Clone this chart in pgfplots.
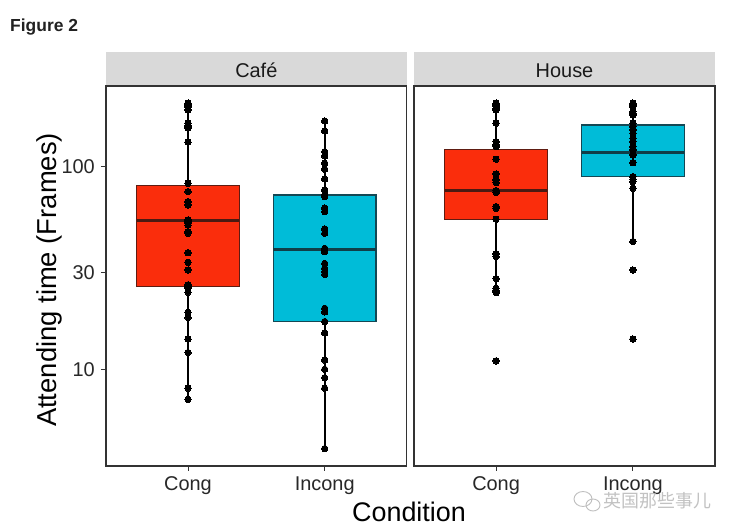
\documentclass[border=0pt]{standalone}
\usepackage{fontspec}
\setmainfont{Liberation Sans}
\newfontfamily\cjk{Noto Sans CJK SC}
\usepackage{pgfplots}
\pgfplotsset{compat=1.18}
\definecolor{boxred}{RGB}{250,45,12}
\definecolor{boxredline}{RGB}{94,28,18}
\definecolor{boxredmed}{RGB}{74,26,18}
\definecolor{boxcyan}{RGB}{0,188,216}
\definecolor{boxcyanline}{RGB}{20,72,84}
\definecolor{boxcyanmed}{RGB}{16,62,72}
\definecolor{stripgray}{RGB}{217,217,217}
\definecolor{axgray}{RGB}{51,51,51}
\definecolor{ticktext}{RGB}{40,40,40}
\begin{document}
\begin{tikzpicture}
\fill[white] (0bp,0bp) rectangle (735bp,532bp);
% ---------------- Panel Cafe
\begin{axis}[scale only axis, height=380bp, width=300.7bp, at={(106bp,66bp)}, anchor=south west,
    ymode=log, ymin=3.332, ymax=250,
    xmin=0.4, xmax=2.6,
    xtick={1,2}, xticklabels={Cong,Incong},
    ytick={10,30,100}, yticklabels={10,30,100},
    yminorticks=false, xminorticks=false,
    axis line style={axgray, line width=1.2bp},
    tick style={axgray, line width=1bp},
    tick align=outside, major tick length=5bp,
    xtick pos=bottom, ytick pos=left,
    /pgf/number format/assume math mode=true,
    x tick label style={font=\fontsize{20}{24}\selectfont, text=ticktext, inner sep=0pt, anchor=north, yshift=-5.5bp},
    y tick label style={font=\fontsize{20}{24}\selectfont, text=ticktext, inner sep=0pt, anchor=east, xshift=-6bp}]
% Cong box: whiskers 7.11 / 205.6, quartiles 25.6 / 80.9, median 54.2
\addplot[black, line width=1.8bp] coordinates {(1,80.9) (1,205.6)};
\addplot[black, line width=1.8bp] coordinates {(1,7.11) (1,25.6)};
\addplot[draw=boxredline, fill=boxred, line width=1.4bp] coordinates {(0.625,25.6) (1.375,25.6) (1.375,80.9) (0.625,80.9)} -- cycle;
\addplot[draw=boxredmed, line width=3bp] coordinates {(0.625,54.2) (1.375,54.2)};
% Incong box: whiskers 4.06 / 168, quartiles 17.2 / 72.4, median 39.1
\addplot[black, line width=1.8bp] coordinates {(2,72.4) (2,168)};
\addplot[black, line width=1.8bp] coordinates {(2,4.06) (2,17.2)};
\addplot[draw=boxcyanline, fill=boxcyan, line width=1.4bp] coordinates {(1.625,17.2) (2.375,17.2) (2.375,72.4) (1.625,72.4)} -- cycle;
\addplot[draw=boxcyanmed, line width=3bp] coordinates {(1.625,39.1) (2.375,39.1)};
\addplot[only marks, mark=*, mark size=3.2bp, mark options={fill=black, draw=black, line width=0pt}] coordinates {
 (1,205.6) (1,203) (1,200) (1,196) (1,190.5) (1,163.8) (1,160) (1,157) (1,154.9) (1,132)
 (1,82.8) (1,75.3) (1,67.2) (1,64.7) (1,54.6) (1,53.5) (1,52.5) (1,51.5) (1,47.8) (1,46.9)
 (1,37.6) (1,33.7) (1,30.9) (1,26.1) (1,25.6) (1,25.1) (1,24) (1,19.1) (1,18) (1,14.1)
 (1,12.1) (1,8.06) (1,7.11)};
\addplot[only marks, mark=*, mark size=3.2bp, mark options={fill=black, draw=black, line width=0pt}] coordinates {
 (2,168) (2,150) (2,118.5) (2,113) (2,104) (2,97.1) (2,86.9) (2,76.7) (2,72.4) (2,71.1)
 (2,62.4) (2,60) (2,49.3) (2,46.9) (2,39.5) (2,38.8) (2,38) (2,33.3) (2,31.5) (2,30.3)
 (2,29.4) (2,20) (2,19.2) (2,17.2) (2,15.1) (2,11.1) (2,10) (2,9.09) (2,8.06) (2,4.06)};
\end{axis}
% ---------------- Panel House
\begin{axis}[scale only axis, height=380bp, width=301bp, at={(414bp,66bp)}, anchor=south west,
    ymode=log, ymin=3.332, ymax=250,
    xmin=0.4, xmax=2.6,
    xtick={1,2}, xticklabels={Cong,Incong},
    ytick=\empty,
    yminorticks=false, xminorticks=false,
    axis line style={axgray, line width=1.2bp},
    tick style={axgray, line width=1bp},
    tick align=outside, major tick length=5bp,
    xtick pos=bottom, ytick pos=left,
    /pgf/number format/assume math mode=true,
    x tick label style={font=\fontsize{20}{24}\selectfont, text=ticktext, inner sep=0pt, anchor=north, yshift=-5.5bp}]
% Cong box: whiskers 23.9 / 205.6, quartiles 55.0 / 121.8, median 76.1
\addplot[black, line width=1.8bp] coordinates {(1,121.8) (1,205.6)};
\addplot[black, line width=1.8bp] coordinates {(1,23.9) (1,55.0)};
\addplot[draw=boxredline, fill=boxred, line width=1.4bp] coordinates {(0.625,55.0) (1.375,55.0) (1.375,121.8) (0.625,121.8)} -- cycle;
\addplot[draw=boxredmed, line width=3bp] coordinates {(0.625,76.1) (1.375,76.1)};
% Incong box: whiskers 42.7 / 205.6, quartiles 89.2 / 160.6, median 117.8
\addplot[black, line width=1.8bp] coordinates {(2,160.6) (2,205.6)};
\addplot[black, line width=1.8bp] coordinates {(2,42.7) (2,89.2)};
\addplot[draw=boxcyanline, fill=boxcyan, line width=1.4bp] coordinates {(1.625,89.2) (2.375,89.2) (2.375,160.6) (1.625,160.6)} -- cycle;
\addplot[draw=boxcyanmed, line width=3bp] coordinates {(1.625,117.8) (2.375,117.8)};
\addplot[only marks, mark=*, mark size=3.2bp, mark options={fill=black, draw=black, line width=0pt}] coordinates {
 (1,205.6) (1,203) (1,200) (1,197.7) (1,194) (1,190.5) (1,163.8) (1,132.8) (1,128) (1,125.5)
 (1,108.8) (1,92) (1,86) (1,83.4) (1,76.1) (1,74.7) (1,63.5) (1,62.3) (1,55) (1,37.1)
 (1,36) (1,28) (1,25.1) (1,24.4) (1,23.9) (1,11.0)};
\addplot[only marks, mark=*, mark size=3.2bp, mark options={fill=black, draw=black, line width=0pt}] coordinates {
 (2,205.6) (2,201.6) (2,197.7) (2,186.9) (2,183.5) (2,180) (2,163.8) (2,157.5) (2,151.7) (2,146.2)
 (2,138.1) (2,132.8) (2,125.5) (2,120.9) (2,114.2) (2,104.6) (2,89.2) (2,86.7) (2,84.3) (2,78.2)
 (2,42.7) (2,30.9) (2,14.1)};
\end{axis}
% strips
\fill[stripgray] (106bp,446.6bp) rectangle (406.7bp,480.3bp);
\fill[stripgray] (414bp,446.6bp) rectangle (715bp,480.3bp);
\node[anchor=base, inner sep=0pt, font=\fontsize{20}{24}\selectfont, text={rgb,255:red,26;green,26;blue,26}] at (256.3bp,454.7bp) {Café};
\node[anchor=base, inner sep=0pt, font=\fontsize{20}{24}\selectfont, text={rgb,255:red,26;green,26;blue,26}] at (564.5bp,454.7bp) {House};
% axis titles
\node[anchor=base, inner sep=0pt, font=\fontsize{27}{32}\selectfont] at (409bp,10.3bp) {Condition};
\node[rotate=90, anchor=base, inner sep=0pt, font=\fontsize{27.5}{32}\selectfont] at (56bp,252bp) {Attending time (Frames)};
% figure label
\node[anchor=base west, inner sep=0pt, font=\bfseries\fontsize{17.5}{21}\selectfont, text={rgb,255:red,34;green,34;blue,34}] at (10bp,500bp) {Figure 2};
% watermark
\draw[black!25, line width=0.9bp] (583bp,33bp) ellipse (9bp and 7.5bp);
\draw[black!25, line width=0.9bp] (593bp,27bp) ellipse (7bp and 6bp);
\node[anchor=base, inner sep=0pt, font=\cjk\fontsize{18}{21}\selectfont, text=black!28, opacity=0.85] at (657.5bp,24.5bp) {英国那些事儿};
\pgfresetboundingbox
\path[use as bounding box] (0bp,0bp) rectangle (735bp,532bp);
\end{tikzpicture}
\end{document}
